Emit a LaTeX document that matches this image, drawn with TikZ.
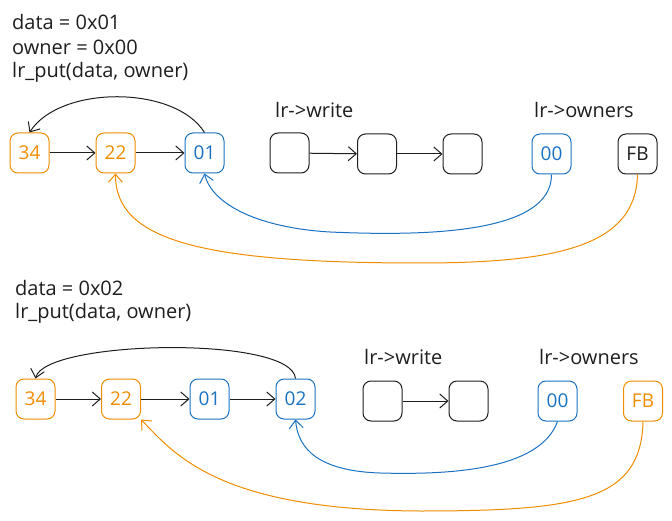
\documentclass[tikz,border=0pt]{standalone}
\usepackage{fontspec}
\setmainfont{Open Sans}
\usetikzlibrary{arrows.meta}
\definecolor{exorange}{HTML}{F08C00}
\definecolor{exblue}{HTML}{1971C2}
\definecolor{exblack}{HTML}{1E1E1E}

\begin{document}
\begin{tikzpicture}[x=1pt,y=-1pt,
    >={Straight Barb[length=8pt,width=14pt]},
    box/.style={draw=exblack, line width=1pt, rounded corners=8pt, minimum width=39pt,
      minimum height=40pt, inner sep=0, text=exblack, font=\fontsize{19}{22}\selectfont},
    obox/.style={box, draw=exorange, text=exorange},
    bbox/.style={box, draw=exblue, text=exblue},
    txt/.style={anchor=west, inner sep=0, text=exblack, font=\fontsize{20}{24}\selectfont},
    link/.style={->, line width=1pt, exblack}]
      \useasboundingbox (0,0) rectangle (672,521);

      % first put
      \node [txt] (t1) at (12,22) {data = 0x01};
      \node [txt] (t2) at (12,47) {owner = 0x00};
      \node [txt] (t3) at (12,72) {lr\_put(data, owner)};
      \node [txt] (wr1) at (275,110) {lr->write};
      \node [txt] (ow1) at (534,110) {lr->owners};

      \node [obox] (a34) at (29.5,153) {34};
      \node [obox] (a22) at (115.5,153) {22};
      \node [bbox] (a01) at (204.5,153) {01};
      \node [box] (aw1) at (289.5,153) {};
      \node [box] (aw2) at (377,154) {};
      \node [box] (aw3) at (462.5,154) {};
      \node [bbox] (a00) at (551.5,154) {00};
      \node [box] (afb) at (637.5,154) {FB};

      \draw [link] (a34) -- (a22);
      \draw [link] (a22) -- (a01);
      \draw [link] (aw1) -- (aw2);
      \draw [link] (aw2) -- (aw3);
      \draw [link] (a01.north) .. controls (175,85) and (60,85) .. (a34.north);
      \draw [link, exblue] (a00.south) .. controls (552,235) and (420,236) .. (330,232)
        .. controls (260,228) and (212,205) .. (a01.south);
      \draw [link, exorange] (afb.south) .. controls (636,245) and (560,263) .. (420,263)
        .. controls (200,263) and (115,240) .. (a22.south);

      % second put
      \node [txt] (t4) at (15,288) {data = 0x02};
      \node [txt] (t5) at (15,313) {lr\_put(data, owner)};
      \node [txt] (wr2) at (364,357) {lr->write};
      \node [txt] (ow2) at (539,357) {lr->owners};

      \node [obox] (b34) at (35.5,399) {34};
      \node [obox] (b22) at (121,399) {22};
      \node [bbox] (b01) at (209.5,399) {01};
      \node [bbox] (b02) at (295.5,399) {02};
      \node [box] (bw1) at (382.5,401) {};
      \node [box] (bw2) at (468.5,401) {};
      \node [bbox] (b00) at (557.5,401) {00};
      \node [obox] (bfb) at (643,401) {FB};

      \draw [link] (b34) -- (b22);
      \draw [link] (b22) -- (b01);
      \draw [link] (b01) -- (b02);
      \draw [link] (bw1) -- (bw2);
      \draw [link] (b02.north) .. controls (292,335) and (45,340) .. (b34.north);
      \draw [link, exblue] (b00.south) .. controls (540,470) and (450,475) .. (380,473)
        .. controls (320,471) and (298,450) .. (b02.south);
      \draw [link, exorange] (bfb.south) .. controls (641,500) and (580,511) .. (420,511)
        .. controls (220,510) and (175,455) .. (b22.south east);
\end{tikzpicture}
\end{document}
